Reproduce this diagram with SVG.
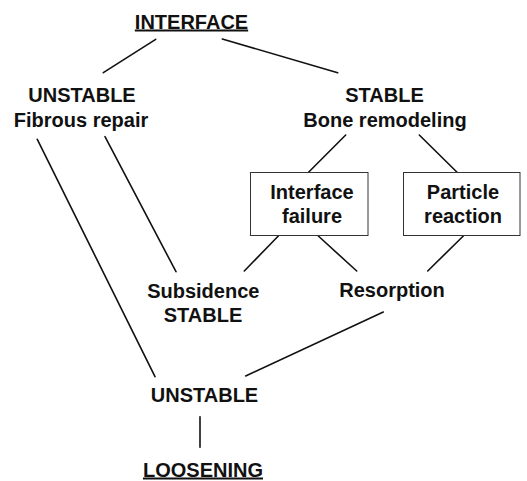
<svg xmlns="http://www.w3.org/2000/svg" width="527" height="481" viewBox="0 0 527 481">
<style>
text{font-family:"Liberation Sans",Arial,Helvetica,sans-serif;font-weight:bold;font-size:20px;fill:#111;text-anchor:middle}
.u{text-decoration:underline}
.c line{stroke:#111;stroke-width:1.6;stroke-linecap:round}
.box{fill:#fff;stroke:#333;stroke-width:1}
</style>
<rect width="527" height="481" fill="#fff"/>
<g class="c" id="connectors">
<line x1="155.7" y1="39.3" x2="103.3" y2="72.7"/>
<line x1="222.3" y1="39" x2="337.7" y2="72.7"/>
<line x1="345.7" y1="135" x2="308.3" y2="172.5"/>
<line x1="419.3" y1="135" x2="457.3" y2="172.5"/>
<line x1="37.3" y1="139.3" x2="155" y2="376.7"/>
<line x1="105" y1="136.7" x2="176" y2="271.7"/>
<line x1="278.3" y1="236" x2="244.3" y2="271"/>
<line x1="318.3" y1="236" x2="356.7" y2="271"/>
<line x1="463.3" y1="236" x2="427.7" y2="271"/>
<line x1="383.3" y1="312" x2="245.7" y2="376"/>
<line x1="200" y1="416.7" x2="200" y2="447.3"/>
</g>
<g id="interface"><text x="191.5" y="28.5" class="u">INTERFACE</text></g>
<g id="unstable-top"><text x="82" y="102">UNSTABLE</text><text x="81" y="126.5">Fibrous repair</text></g>
<g id="stable-top"><text x="384.5" y="102">STABLE</text><text x="385" y="126.5">Bone remodeling</text></g>
<g id="interface-failure"><rect class="box" x="250.5" y="172.5" width="117.5" height="63"/><text x="312" y="199">Interface</text><text x="312" y="222.5">failure</text></g>
<g id="particle-reaction"><rect class="box" x="403.5" y="172.5" width="116.5" height="63"/><text x="463" y="199">Particle</text><text x="463" y="222.5">reaction</text></g>
<g id="subsidence"><text x="203.3" y="297.5">Subsidence</text><text x="203" y="321.5">STABLE</text></g>
<g id="resorption"><text x="392" y="297">Resorption</text></g>
<g id="unstable-bottom"><text x="204.5" y="401.5">UNSTABLE</text></g>
<g id="loosening"><text x="203" y="476.5" class="u">LOOSENING</text></g>
</svg>
